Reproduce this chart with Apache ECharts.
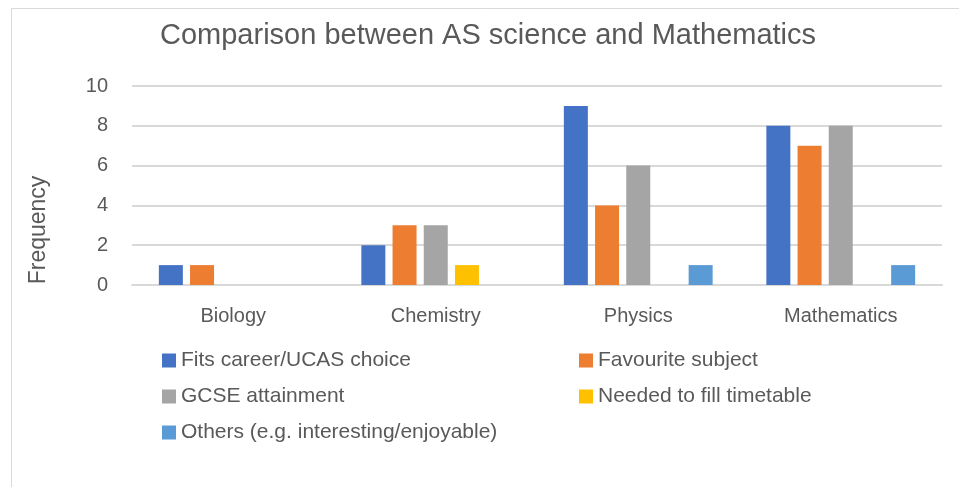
<!DOCTYPE html>
<html>
<head>
    <meta charset="utf-8">
    <title>Comparison between AS science and Mathematics</title>
    <script type="text/javascript" src="https://cdn.jsdelivr.net/npm/echarts@6/dist/echarts.min.js"></script>
    <style>
        body { margin: 0; background: #fff; }
    </style>
</head>
<body>
<div id="bar" style="width:959px;height:487px;"></div>

<script type="text/javascript">
    // data
    var subjects = ['Biology', 'Chemistry', 'Physics', 'Mathematics'];
    var career_data = [1, 2, 9, 8];
    var favourite_data = [1, 3, 4, 7];
    var gcse_data = [0, 3, 6, 8];
    var timetable_data = [0, 1, 0, 0];
    var others_data = [0, 0, 1, 1];
    var yTicks = [0, 2, 4, 6, 8, 10];

    var textColor = '#595959';
    var fontName = 'Liberation Sans';

    var myChart = echarts.init(document.getElementById('bar'));

    function barSeries(name, color, data) {
        return {
            name: name,
            type: 'bar',
            data: data,
            barWidth: 24,
            barGap: '30%',
            itemStyle: { color: color },
            emphasis: { disabled: true }
        };
    }

    var legendText = { color: textColor, fontSize: 21, fontFamily: fontName };

    var option = {
        animation: false,
        textStyle: { fontFamily: fontName },
        title: {
            text: 'Comparison between AS science and Mathematics',
            left: 155,
            top: 16,
            textStyle: { color: textColor, fontSize: 29, fontWeight: 'normal', fontFamily: fontName }
        },
        graphic: [{
            type: 'rect',
            shape: { x: 11.5, y: 8.5, width: 960, height: 500 },
            style: { fill: 'none', stroke: '#d9d9d9', lineWidth: 1 },
            silent: true
        }, {
            // y axis title, Excel puts it a bit below the plot middle
            type: 'text',
            x: 39,
            y: 230,
            rotation: Math.PI / 2,
            silent: true,
            style: {
                text: 'Frequency',
                fill: textColor,
                font: '23px "Liberation Sans"',
                align: 'center',
                verticalAlign: 'middle'
            }
        }],
        legend: [{
            orient: 'vertical',
            left: 157,
            top: 345,
            itemWidth: 14,
            itemHeight: 14,
            itemGap: 15,
            icon: 'rect',
            textStyle: legendText,
            data: ['Fits career/UCAS choice', 'GCSE attainment', 'Others (e.g. interesting/enjoyable)']
        }, {
            orient: 'vertical',
            left: 574,
            top: 345,
            itemWidth: 14,
            itemHeight: 14,
            itemGap: 15,
            icon: 'rect',
            textStyle: legendText,
            data: ['Favourite subject', 'Needed to fill timetable']
        }],
        grid: {
            left: 132,
            right: 17,
            top: 86,
            bottom: 202
        },
        xAxis: {
            type: 'category',
            data: subjects,
            axisLine: { lineStyle: { color: '#d9d9d9', width: 2 } },
            axisTick: { show: false },
            axisLabel: { color: textColor, fontSize: 20, margin: 21 }
        },
        yAxis: {
            type: 'value',
            min: yTicks[0],
            max: yTicks[yTicks.length - 1],
            interval: 2,
            axisLine: { show: false },
            axisTick: { show: false },
            axisLabel: { color: textColor, fontSize: 20, margin: 24 },
            splitLine: { lineStyle: { color: '#d9d9d9', width: 2 } }
        },
        series: [
            barSeries('Fits career/UCAS choice', '#4472C4', career_data),
            barSeries('Favourite subject', '#ED7D31', favourite_data),
            barSeries('GCSE attainment', '#A5A5A5', gcse_data),
            barSeries('Needed to fill timetable', '#FFC000', timetable_data),
            barSeries('Others (e.g. interesting/enjoyable)', '#5B9BD5', others_data)
        ]
    };
    myChart.setOption(option);
</script>
</body>
</html>
